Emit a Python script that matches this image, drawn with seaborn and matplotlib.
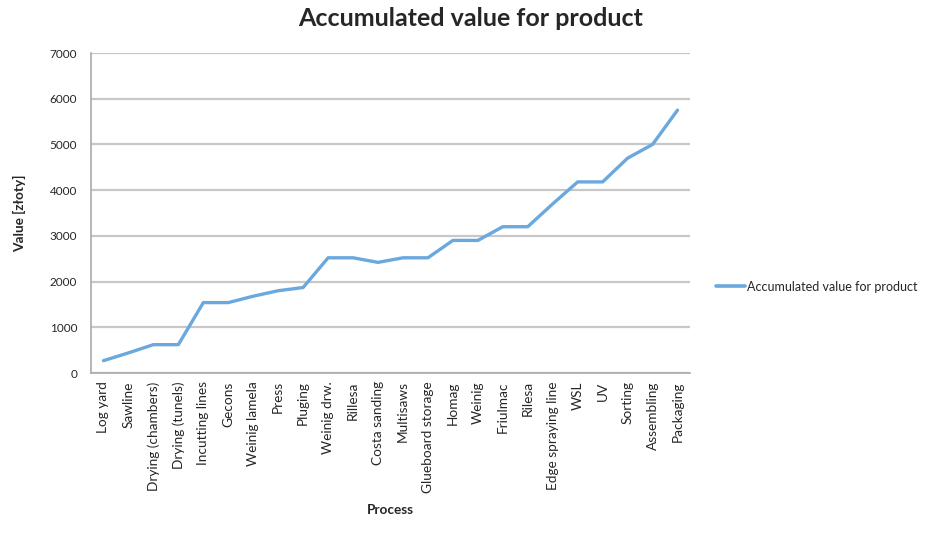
import matplotlib
matplotlib.use("Agg")
import matplotlib.pyplot as plt
import seaborn as sns
import pandas as pd
import numpy as np

processes = ["Log yard", "Sawline", "Drying (chambers)", "Drying (tunels)", "Incutting lines",
             "Gecons", "Weinig lamela", "Press", "Pluging", "Weinig drw.", "Rillesa",
             "Costa sanding", "Multisaws", "Glueboard storage", "Homag", "Weinig", "Friulmac",
             "Rilesa", "Edge spraying line", "WSL", "UV", "Sorting", "Assembling", "Packaging"]
values = [270, 440, 620, 620, 1540, 1540, 1680, 1800, 1870, 2520, 2520, 2420, 2520,
          2520, 2900, 2900, 3200, 3200, 3700, 4180, 4180, 4700, 5000, 5750]
yticks = [0, 1000, 2000, 3000, 4000, 5000, 6000, 7000]
series_name = "Accumulated value for product"

sns.set_style("white")
plt.rcParams['font.family'] = ['Lato', 'DejaVu Sans']

df = pd.DataFrame({"Process": processes, "Value": values, "Series": series_name})

fig = plt.figure(figsize=(9.41, 5.35), dpi=100)
ax = fig.add_axes([91/941, 1 - 373/535, (690 - 91)/941, (373 - 53)/535])

sns.lineplot(data=df, x="Process", y="Value", hue="Series", palette=["#6aa8de"],
             linewidth=2.4, sort=False, ax=ax, legend=True)

ax.set_xlim(-0.5, len(processes) - 0.5)
ax.set_ylim(0, 7000)
ax.set_yticks(yticks)
ax.set_yticklabels([str(v) for v in yticks], fontsize=8.5)
ax.set_xticks(range(len(processes)))
ax.set_xticklabels(processes, rotation=90, fontsize=9.8, va="top")
ax.tick_params(axis="x", which="major", length=0, pad=6)
ax.set_xticks(np.arange(-0.5, len(processes)), minor=True)
ax.tick_params(axis="x", which="minor", length=4, color="#aaaaaa", width=1)
ax.tick_params(axis="y", length=4, color="#aaaaaa", width=1, pad=6)

ax.yaxis.grid(True, color="#c8c8c8", linewidth=1.6)
ax.set_axisbelow(True)
for s in ["top", "right"]:
    ax.spines[s].set_visible(False)
for s in ["left", "bottom"]:
    ax.spines[s].set_color("#aaaaaa")
    ax.spines[s].set_linewidth(1.2)

ax.set_xlabel("Process", fontsize=9.8, fontweight="bold", labelpad=8)
ax.set_ylabel("Value [złoty]", fontsize=9.8, fontweight="bold", labelpad=17)

fig.text(0.5, 1 - 19/535, "Accumulated value for product", ha="center", va="center",
         fontsize=18, fontweight="bold")

leg = ax.legend(loc="center left", bbox_to_anchor=(1.025, 0.27), frameon=False,
                fontsize=9, handlelength=2.3, handletextpad=0.2)
for line in leg.get_lines():
    line.set_linewidth(2.6)

fig.savefig("out.png", dpi=100)
